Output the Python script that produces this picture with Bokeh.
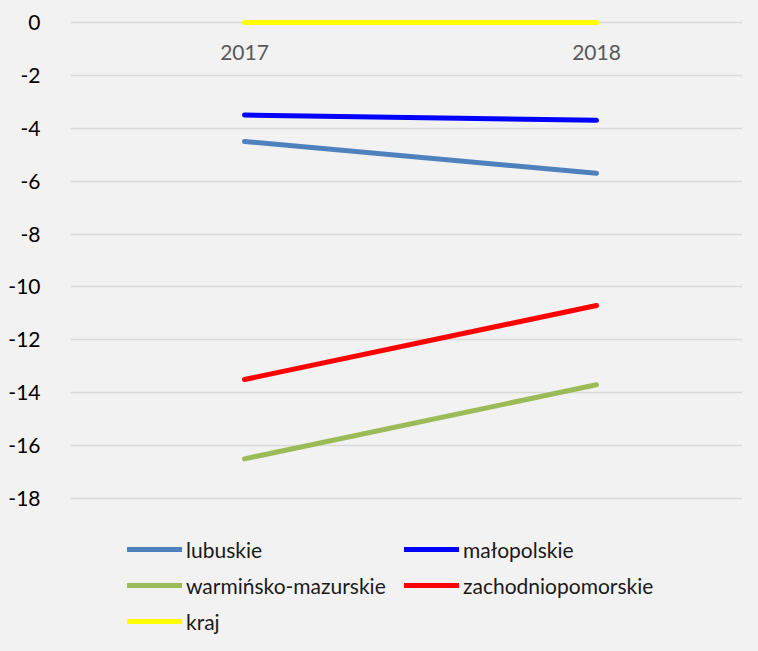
from bokeh.plotting import figure
from bokeh.models import Range1d, FixedTicker, Legend, LegendItem, ColumnDataSource, GlobalInlineStyleSheet
from bokeh.core.properties import value
from bokeh.embed import file_html
from bokeh.resources import INLINE

years = [2017, 2018]
year_labels = ["2017", "2018"]
series_names = ["lubuskie", "małopolskie", "warmińsko-mazurskie", "zachodniopomorskie", "kraj"]
lubuskie = [-4.5, -5.7]
malopolskie = [-3.5, -3.7]
warminsko = [-16.5, -13.7]
zachodnio = [-13.5, -10.7]
kraj = [0.0, 0.0]
y_ticks = [0, -2, -4, -6, -8, -10, -12, -14, -16, -18]

colors = ["#4f81bd", "#0000ff", "#9bbb59", "#ff0000", "#ffff00"]
values = [lubuskie, malopolskie, warminsko, zachodnio, kraj]

FONT = "Lato"
BG = "#f2f2f2"

p = figure(width=742, height=635, output_backend="svg", toolbar_location=None,
           x_range=Range1d(2016.5057, 2018.4148), y_range=Range1d(-23.18, 0.832),
           min_border_left=70, min_border_right=0, min_border_top=0, min_border_bottom=0)
p.background_fill_color = BG
p.border_fill_color = BG
p.outline_line_color = None
p.stylesheets = [GlobalInlineStyleSheet(css="body{background:%s;}" % BG)]

p.xaxis.visible = False
p.xgrid.visible = False
p.yaxis.ticker = FixedTicker(ticks=y_ticks)
p.yaxis.major_label_overrides = {t: str(t) for t in y_ticks}
p.yaxis.axis_line_color = None
p.yaxis.major_tick_line_color = None
p.yaxis.minor_tick_line_color = None
p.yaxis.major_label_standoff = 24
p.yaxis.major_label_text_font = FONT
p.yaxis.major_label_text_font_size = "21px"
p.yaxis.major_label_text_color = "#000000"
p.ygrid.ticker = FixedTicker(ticks=y_ticks)
p.ygrid.grid_line_color = "#d9d9d9"
p.ygrid.grid_line_width = 1.3

renderers = []
for name, vals, col in zip(series_names, values, colors):
    r = p.line(years, vals, line_color=col, line_width=5, line_cap="round")
    renderers.append((name, r))

src = ColumnDataSource(dict(x=years, y=[0, 0], t=year_labels))
p.text(x="x", y="y", text="t", source=src, y_offset=30, text_align="center",
       text_baseline="middle", text_font=value(FONT), text_font_size="21px",
       text_color="#595959")

legend = Legend(items=[LegendItem(label=n, renderers=[r]) for n, r in renderers],
                location=(57, -1), orientation="horizontal", ncols=2,
                glyph_width=55, glyph_height=30, label_height=30, label_width=212,
                label_standoff=4, spacing=6, padding=0, margin=0,
                label_text_font=FONT, label_text_font_size="21px",
                label_text_color="#1a1a1a",
                background_fill_alpha=0, border_line_color=None)
p.add_layout(legend, "center")

open("out.html", "w").write(file_html(p, INLINE))
